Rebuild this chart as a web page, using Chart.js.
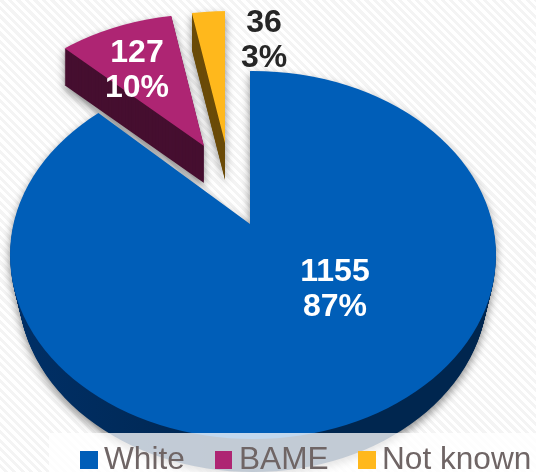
<!DOCTYPE html>
<html>
<head>
<meta charset="utf-8">
<title>Ethnicity breakdown</title>
<script src="https://cdn.jsdelivr.net/npm/chart.js@4"></script>
<style>
    html, body { margin: 0; padding: 0; }
    body {
        width: 536px;
        height: 472px;
        overflow: hidden;
        background: repeating-linear-gradient(45deg, #ffffff 0 3px, #f4f4f4 3px 6px);
    }
    canvas { display: block; }
</style>
</head>
<body>
<canvas id="pie" width="536" height="472"></canvas>
<script>
const categories = ['White', 'BAME', 'Not known'];
const counts = [1155, 127, 36];
const percentLabels = ['87%', '10%', '3%'];

const faceColors = ['#005eb8', '#ae2573', '#ffb81c'];
const sideColors = ['#00264f', '#460f30', '#6b4c0a'];

// Tilted disc: each slice has a wedge apex, and its rim is a squashed ellipse.
// The rim narrows a little going down the side wall (taper).
const WEDGE_RADIUS = 420;
const discs = [
    { apexX: 250, apexY: 224, tilt: 0.72, cx: 253, cy: 255, depth: 33, taper: 0.25 },
    { apexX: 204, apexY: 146, tilt: 0.69, cx: 206, cy: 198, depth: 37, taper: 0 },
    { apexX: 225, apexY: 143, tilt: 0.68, cx: 228, cy: 195, depth: 37, taper: 0 }
];
const RIM_RX = 243;
const RIM_RY = 184;

// One slice, shifted down by dy and cut to the rim of its disc
function drawSlice(ctx, arc, disc, dy, fill) {
    ctx.save();
    ctx.beginPath();
    ctx.ellipse(disc.cx, disc.cy + dy, RIM_RX - dy * disc.taper, RIM_RY, 0, 0, Math.PI * 2);
    ctx.clip();
    ctx.translate(disc.apexX, disc.apexY + dy);
    const k = WEDGE_RADIUS / arc.outerRadius;
    ctx.scale(k, k * disc.tilt);
    ctx.translate(-arc.x, -arc.y);
    arc.options.backgroundColor = fill;
    arc.options.borderWidth = 0;
    arc.draw(ctx);
    ctx.restore();
}

const tiltedPie = {
    id: 'tiltedPie',
    beforeDraw(chart) {
        const ctx = chart.ctx;
        const layer = document.createElement('canvas');
        layer.width = chart.width;
        layer.height = chart.height;
        const g = layer.getContext('2d');

        const sideFade = g.createLinearGradient(20, 0, 260, 0);
        sideFade.addColorStop(0, '#00529f');
        sideFade.addColorStop(0.45, '#003068');
        sideFade.addColorStop(1, sideColors[0]);

        chart.getDatasetMeta(0).data.forEach((arc, i) => {
            const disc = discs[i];
            const side = i === 0 ? sideFade : sideColors[i];
            for (let dy = disc.depth; dy > 0; dy--) {
                drawSlice(g, arc, disc, dy, side);
            }
            drawSlice(g, arc, disc, 0, faceColors[i]);
        });

        ctx.save();
        ctx.shadowColor = 'rgba(0, 0, 0, 0.45)';
        ctx.shadowBlur = 9;
        ctx.shadowOffsetY = 4;
        ctx.drawImage(layer, 0, 0);
        ctx.restore();
    },
    beforeDatasetsDraw() {
        return false;
    },
    afterDraw(chart) {
        const ctx = chart.ctx;

        // value labels
        const labelSpots = [[335, 272, '#ffffff'], [137, 53, '#ffffff'], [264, 23, '#262626']];
        ctx.save();
        ctx.font = 'bold 32px "Liberation Sans"';
        ctx.textAlign = 'center';
        ctx.textBaseline = 'middle';
        counts.forEach((n, i) => {
            const [x, y, color] = labelSpots[i];
            ctx.fillStyle = color;
            ctx.fillText(String(n), x, y);
            ctx.fillText(percentLabels[i], x, y + 35);
        });
        ctx.restore();

        // legend strip sits over the bottom of the pie
        ctx.save();
        ctx.fillStyle = 'rgba(255, 255, 255, 0.76)';
        ctx.fillRect(49, 433, 487, 39);
        ctx.font = '31.6px "Liberation Sans"';
        ctx.textBaseline = 'alphabetic';
        const legendX = [80, 215, 358];
        categories.forEach((name, i) => {
            ctx.fillStyle = faceColors[i];
            ctx.fillRect(legendX[i], 451, i === 1 ? 17 : 18, 18);
            ctx.fillStyle = '#6f6565';
            ctx.fillText(name, legendX[i] + (i === 1 ? 24 : 24), 469);
        });
        ctx.restore();
    }
};

new Chart(document.getElementById('pie'), {
    type: 'pie',
    data: {
        labels: categories,
        datasets: [{ data: counts, backgroundColor: faceColors, borderWidth: 0 }]
    },
    options: {
        responsive: false,
        animation: false,
        plugins: {
            legend: { display: false },
            tooltip: { enabled: false }
        }
    },
    plugins: [tiltedPie]
});
</script>
</body>
</html>
